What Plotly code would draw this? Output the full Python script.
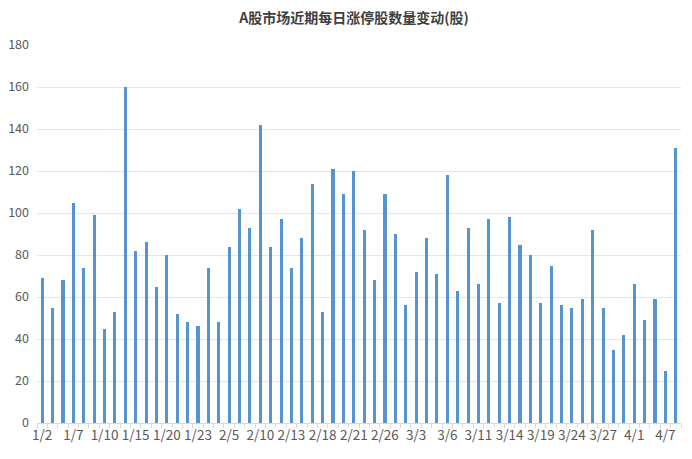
import plotly.graph_objects as go

dates = ["1/2","1/3","1/6","1/7","1/8","1/9","1/10","1/13","1/14","1/15",
         "1/16","1/17","1/20","1/21","1/22","1/23","1/24","1/27","2/5","2/6",
         "2/7","2/10","2/11","2/12","2/13","2/14","2/17","2/18","2/19","2/20",
         "2/21","2/24","2/25","2/26","2/27","2/28","3/3","3/4","3/5","3/6",
         "3/7","3/10","3/11","3/12","3/13","3/14","3/17","3/18","3/19","3/20",
         "3/21","3/24","3/25","3/26","3/27","3/28","3/31","4/1","4/2","4/3",
         "4/7","4/8"]
limit_up = [69,55,68,105,74,99,45,53,160,82,
            86,65,80,52,48,46,74,48,84,102,
            93,142,84,97,74,88,114,53,121,109,
            120,92,68,109,90,56,72,88,71,118,
            63,93,66,97,57,98,85,80,57,75,
            56,55,59,92,55,35,42,66,49,59,
            25,131]
y_ticks = [0,20,40,60,80,100,120,140,160,180]

idx = list(range(len(dates)))
shown = idx[::3]

fig = go.Figure(go.Bar(
    x=idx, y=limit_up, width=0.3,
    marker=dict(color="#5694d0", line=dict(width=0)),
    hoverinfo="y"
))

fig.update_layout(
    width=692, height=459,
    margin=dict(l=29, r=19, t=37, b=44, autoexpand=False),
    paper_bgcolor="white", plot_bgcolor="white",
    font=dict(family="Noto Sans CJK SC, Noto Sans, sans-serif", color="#595959", size=13),
    title=dict(text="<b>A股市场近期每日涨停股数量变动(股)</b>", x=0.5, xanchor="center",
               y=0.979, yanchor="middle", font=dict(size=14, color="#404040")),
    showlegend=False,
    bargap=0,
)
fig.update_xaxes(
    automargin=False,
    range=[-0.5, len(dates) - 0.5],
    tickmode="array", tickvals=shown, ticktext=[dates[i] for i in shown],
    showgrid=False, zeroline=False,
    showline=True, linecolor="#d9d9d9", linewidth=1,
    ticks="", tickfont=dict(size=13.5, color="#595959"),
    minor=dict(ticks="outside", tick0=-0.5, dtick=1, ticklen=4, tickcolor="#d9d9d9", showgrid=False),
)
fig.update_yaxes(
    automargin=False,
    range=[0, 180], tickmode="array", tickvals=y_ticks,
    showgrid=True, gridcolor="#e6e6e6", gridwidth=1,
    zeroline=False, showline=False, ticks="", ticklabelstandoff=7,
    tickfont=dict(size=12.5, color="#595959"),
)

fig.write_html("out.html")
